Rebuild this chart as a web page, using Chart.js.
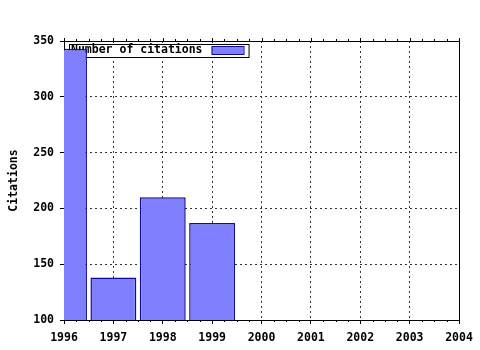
<!DOCTYPE html>
<html>
<head>
<meta charset="utf-8">
<script src="https://cdn.jsdelivr.net/npm/chart.js@4"></script>
<style>
  html, body { margin: 0; padding: 0; background: #fff; }
  #wrap { width: 480px; height: 350px; }
</style>
</head>
<body>
<div id="wrap"><canvas id="myChart" width="480" height="350"></canvas></div>
<script>
// data
var years = [1996, 1997, 1998, 1999];
var citations = [343, 138, 210, 187];
var seriesLabel = "Number of citations";
var yTitle = "Citations";
var xMin = 1996, xMax = 2004;
var yMin = 100, yMax = 350, yStep = 50;

var FONT = { family: "'DejaVu Sans Mono', monospace", size: 11.5, weight: 'bold' };
var fill = "#8080ff";
var edge = "#0c0c96";

// frame, top ticks, minor ticks and the inside legend
var framePlugin = {
  id: 'frame',
  beforeDatasetsDraw(chart) {
    // legend sits under the bars, like in the picture
    let ctx = chart.ctx;
    let a = chart.chartArea;
    let x0 = a.left + 5, y0 = a.top + 3;
    ctx.save();
    ctx.font = FONT.weight + " " + FONT.size + "px " + FONT.family;
    let tw = ctx.measureText(seriesLabel).width;
    let w = tw + 48, h = 13;
    ctx.fillStyle = "#fff";
    ctx.fillRect(x0, y0, w, h);
    ctx.strokeStyle = "#000";
    ctx.lineWidth = 1;
    ctx.strokeRect(x0 + 0.5, y0 + 0.5, w, h);
    ctx.fillStyle = "#000";
    ctx.textBaseline = "middle";
    ctx.fillText(seriesLabel, x0 + 2, y0 + h / 2);
    ctx.fillStyle = fill;
    ctx.fillRect(x0 + w - 37, y0 + 2.5, 32, 8);
    ctx.strokeStyle = edge;
    ctx.strokeRect(x0 + w - 37 + 0.5, y0 + 2.5, 32, 8);
    ctx.restore();
  },
  afterDraw(chart) {
    let ctx = chart.ctx;
    let a = chart.chartArea;
    let xs = chart.scales.x;
    ctx.save();
    ctx.strokeStyle = "#000";
    ctx.lineWidth = 1;
    ctx.beginPath();
    // top and right frame
    ctx.moveTo(a.left, Math.round(a.top) + 0.5);
    ctx.lineTo(a.right, Math.round(a.top) + 0.5);
    ctx.moveTo(Math.round(a.right) + 0.5, a.top);
    ctx.lineTo(Math.round(a.right) + 0.5, a.bottom);
    // ticks every quarter year, bigger on whole years
    for (let v = xMin; v <= xMax + 1e-9; v += 0.25) {
      let px = Math.round(xs.getPixelForValue(v)) + 0.5;
      let major = Math.abs(v - Math.round(v)) < 1e-9;
      let len = major ? 3 : 2;
      ctx.moveTo(px, Math.round(a.top));
      ctx.lineTo(px, Math.round(a.top) - len);
      if (!major) {
        ctx.moveTo(px, Math.round(a.bottom));
        ctx.lineTo(px, Math.round(a.bottom) + 2);
      }
    }
    ctx.stroke();
    ctx.restore();
  }
};

var ctx = document.getElementById('myChart').getContext('2d');
var myChart = new Chart(ctx, {
  type: 'bar',
  data: {
    datasets: [{
      label: seriesLabel,
      data: years.map((y, i) => ({ x: y, y: citations[i] })),
      backgroundColor: fill,
      borderColor: edge,
      borderWidth: 1.5,
      inflateAmount: 0,
      barPercentage: 0.93,
      categoryPercentage: 1.0
    }]
  },
  options: {
    responsive: false,
    animation: false,
    layout: { padding: { left: 0, top: 41, right: 21, bottom: 0 } },
    plugins: {
      legend: { display: false },
      tooltip: { enabled: false }
    },
    scales: {
      x: {
        type: 'linear',
        min: xMin,
        max: xMax,
        offset: false,
        afterFit: s => { s.height = 30; },
        ticks: { stepSize: 1, color: "#000", font: FONT, padding: 7, maxRotation: 0,
                 callback: v => String(v) },
        grid: { offset: false, color: "#333", tickColor: "#000", tickLength: 4, lineWidth: 1, tickBorderDash: [] },
        border: { display: true, color: "#000", dash: [2, 3] }
      },
      y: {
        min: yMin,
        max: yMax,
        afterFit: s => { s.width = 64; },
        ticks: { stepSize: yStep, color: "#000", font: FONT, padding: 6 },
        grid: { color: "#333", tickColor: "#000", tickLength: 4, lineWidth: 1, tickBorderDash: [] },
        border: { display: true, color: "#000", dash: [2, 3] },
        title: { display: true, text: yTitle, color: "#000", font: FONT, padding: { top: 7, bottom: 0 } }
      }
    }
  },
  plugins: [framePlugin]
});
</script>
</body>
</html>
